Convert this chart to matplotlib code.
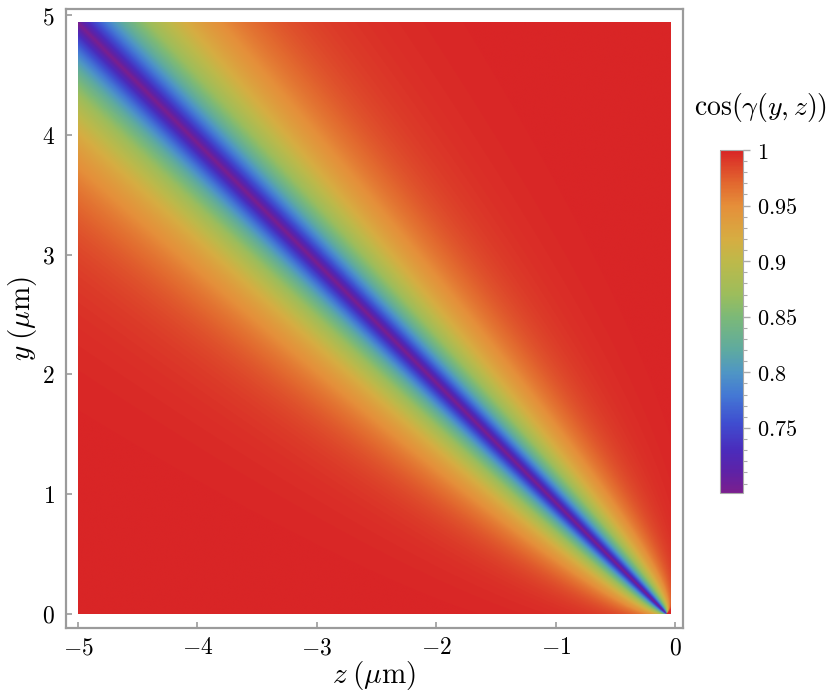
import numpy as np
import matplotlib
matplotlib.use("Agg")
import matplotlib.pyplot as plt
from matplotlib.colors import LinearSegmentedColormap
from matplotlib.ticker import FixedLocator, FixedFormatter, MultipleLocator

plt.rcParams['mathtext.fontset'] = 'cm'
plt.rcParams['font.family'] = ['DejaVu Serif']

# ---- data ----
z_range = [-5.0, -0.035]          # extent of the computed map along z (um)
y_range = [0.0, 4.94]             # extent along y (um)
apex_z = -0.07                    # apex of the dark diagonal band (um)
cos_min = 0.6915                  # minimum of cos(gamma) on the diagonal
band_decay = 0.19                 # decay length of the dip (normalised)
x_ticks = [-5, -4, -3, -2, -1, 0]
y_ticks = [0, 1, 2, 3, 4, 5]
cbar_ticks = [0.75, 0.8, 0.85, 0.9, 0.95, 1.0]
cbar_ticklabels = ['0.75', '0.8', '0.85', '0.9', '0.95', '1']

# colour scale (Mathematica-like "Rainbow") sampled from the colour bar
cmap_vals = [0.6915, 0.71, 0.73, 0.755, 0.78, 0.80, 0.82, 0.85, 0.87, 0.90, 0.92, 0.95, 0.97, 1.0]
cmap_cols = ['#7a1f8e', '#5e22a6', '#4a2cbc', '#3f4fd0', '#4479d4', '#4f96c4', '#5eaaa0',
             '#7cb977', '#9cbd5c', '#bdb94a', '#d6ad42', '#e58f3a', '#e2692f', '#d92526']

# ---- field ----
nz, ny = 900, 900
zz = np.linspace(z_range[0], z_range[1], nz)
yy = np.linspace(y_range[0], y_range[1], ny)
Z, Y = np.meshgrid(zz, yy)
U = -(Z - apex_z)
r = np.clip((Y + U) / np.sqrt(2), 1e-6, None)
p = (Y - U) / np.sqrt(2)
q = np.abs(p) / np.sqrt(r)
C = 1 - (1 - cos_min) * np.exp(-q / band_decay)

vmin, vmax = cos_min, 1.0
pos = [(v - vmin) / (vmax - vmin) for v in cmap_vals]
cmap = LinearSegmentedColormap.from_list('mrainbow', list(zip(pos, cmap_cols)))

# ---- figure ----
fig = plt.figure(figsize=(8.3, 6.98), dpi=100)
ax = fig.add_axes([0.0795, 0.1003, 0.7435, 0.8867])
im = ax.imshow(C, origin='lower', extent=[z_range[0], z_range[1], y_range[0], y_range[1]],
               cmap=cmap, vmin=vmin, vmax=vmax, interpolation='bilinear', aspect='auto')
ax.set_xlim(-5.10, 0.067)
ax.set_ylim(-0.117, 5.05)

spine_col = '#9b9b9b'
for s in ax.spines.values():
    s.set_color(spine_col)
    s.set_linewidth(1.6)

ax.xaxis.set_major_locator(FixedLocator(x_ticks))
ax.xaxis.set_major_formatter(FixedFormatter(['$%d$' % v for v in x_ticks]))
ax.yaxis.set_major_locator(FixedLocator(y_ticks))
ax.yaxis.set_major_formatter(FixedFormatter(['$%d$' % v for v in y_ticks]))
ax.tick_params(direction='in', length=4, width=1.2, color=spine_col, labelsize=17,
               labelcolor='black', pad=6)
ax.tick_params(axis='y', pad=8)

ax.set_xlabel(r'$z\;(\mu\mathrm{m})$', fontsize=21, labelpad=0)
ax.set_ylabel(r'$y\;(\mu\mathrm{m})$', fontsize=21, labelpad=2)

# colour bar
cax = fig.add_axes([0.8675, 0.2937, 0.0277, 0.4914])
cb = fig.colorbar(im, cax=cax)
cb.outline.set_edgecolor('#aaaaaa')
cb.outline.set_linewidth(0.8)
cb.set_ticks(cbar_ticks)
cb.set_ticklabels(['$%s$' % t for t in cbar_ticklabels])
cax.yaxis.set_minor_locator(MultipleLocator(0.01))
cax.tick_params(which='major', length=5, width=1.0, color='#aaaaaa', labelsize=16, pad=5)
cax.tick_params(which='minor', length=3, width=0.8, color='#aaaaaa')
fig.text(0.916, 0.846, r'$\cos(\gamma(y,z))$', fontsize=20, ha='center', va='center')

fig.savefig('out.png', dpi=100)
